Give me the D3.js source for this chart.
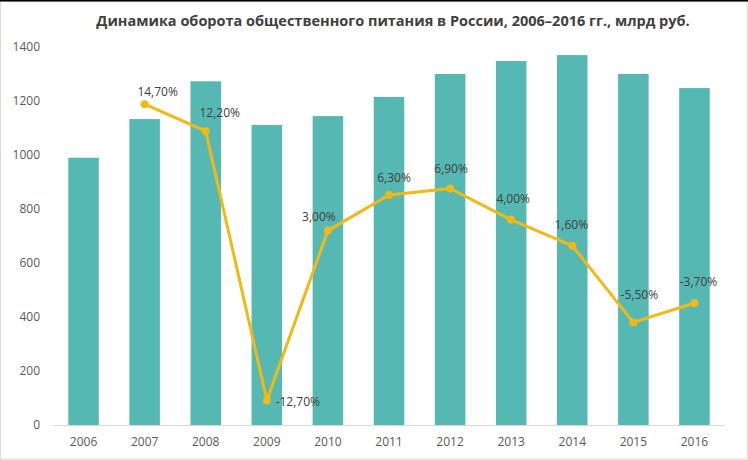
<!DOCTYPE html>
<html>
<head>
<meta charset="utf-8">
<script src="https://cdn.jsdelivr.net/npm/d3@7"></script>
<style>
  html, body { margin: 0; padding: 0; background: #fff; }
  svg { display: block; }
</style>
</head>
<body>
<svg id="chart" width="748" height="460"></svg>
<script>
const years = ["2006","2007","2008","2009","2010","2011","2012","2013","2014","2015","2016"];
const turnover = [990, 1133, 1273, 1111, 1144, 1215, 1300, 1348, 1370, 1300, 1248];
const growthYears = ["2007","2008","2009","2010","2011","2012","2013","2014","2015","2016"];
const growth = [14.7, 12.2, -12.7, 3.0, 6.3, 6.9, 4.0, 1.6, -5.5, -3.7];
const yTicks = [0, 200, 400, 600, 800, 1000, 1200, 1400];
const title = "Динамика оборота общественного питания в России, 2006–2016 гг., млрд руб.";

// label placement (offset of label centre from the point)
const labelOffsets = [[13,-12],[14,-18],[31,2],[-9,-14],[5,-17],[1,-19],[2,-21],[-1,-21],[6,-27],[4,-21]];

(function () {
const svg = d3.select("#chart");
const W = 748, H = 460;
const font = "'Open Sans', 'Noto Sans', sans-serif";

// frame
svg.append("rect").attr("x", 0.5).attr("y", 1.5).attr("width", W - 1.5).attr("height", H - 2.5)
  .attr("fill", "#fff").attr("stroke", "#d9d9d9");
svg.append("rect").attr("x", 0).attr("y", 0).attr("width", W).attr("height", 1.5).attr("fill", "#000");

const mLeft = 53, mRight = 725, mTop = 47, mBottom = 425;

const x = d3.scaleBand().domain(years).range([mLeft, mRight]).paddingInner(0.5).paddingOuter(0.25);
const y = d3.scaleLinear().domain([0, 1400]).range([mBottom, mTop]);
const y2 = d3.scaleLinear().domain([-15, 20]).range([mBottom, mTop]);

// title
svg.append("text").attr("x", 393).attr("y", 26).attr("text-anchor", "middle")
  .attr("font-family", font).attr("font-size", 14.5).attr("font-weight", "bold")
  .attr("fill", "#404040").text(title);

// y axis (labels only)
const yAxis = d3.axisLeft(y).tickValues(yTicks).tickFormat(d3.format("d")).tickSize(0).tickPadding(0);
const gy = svg.append("g").attr("transform", `translate(40,0)`).call(yAxis);
gy.select(".domain").remove();
gy.selectAll("text").attr("font-family", font).attr("font-size", 12).attr("fill", "#595959");

// bars
svg.append("g").selectAll("rect").data(years).join("rect")
  .attr("x", d => x(d)).attr("width", x.bandwidth())
  .attr("y", (d, i) => y(turnover[i])).attr("height", (d, i) => y(0) - y(turnover[i]))
  .attr("fill", "#56b8b3");

// baseline
svg.append("line").attr("x1", mLeft).attr("x2", mRight).attr("y1", mBottom + 0.5).attr("y2", mBottom + 0.5)
  .attr("stroke", "#d9d9d9").attr("stroke-width", 1);

// x axis
const xAxis = d3.axisBottom(x).tickSize(0).tickPadding(12);
const gx = svg.append("g").attr("transform", `translate(0,${mBottom})`).call(xAxis);
gx.select(".domain").remove();
gx.selectAll("text").attr("font-family", font).attr("font-size", 12).attr("fill", "#595959");

// line
const cx = d => x(d) + x.bandwidth() / 2;
const line = d3.line().x((d, i) => cx(growthYears[i])).y(d => y2(d));
svg.append("path").datum(growth).attr("d", line).attr("fill", "none")
  .attr("stroke", "#f0b915").attr("stroke-width", 3).attr("stroke-linejoin", "round");
svg.append("g").selectAll("circle").data(growth).join("circle")
  .attr("cx", (d, i) => cx(growthYears[i])).attr("cy", d => y2(d)).attr("r", 4)
  .attr("fill", "#f0b915");

// labels
const fmt = v => v.toFixed(2).replace(".", ",") + "%";
svg.append("g").selectAll("text").data(growth).join("text")
  .attr("x", (d, i) => cx(growthYears[i]) + labelOffsets[i][0])
  .attr("y", (d, i) => y2(d) + labelOffsets[i][1] + 4)
  .attr("text-anchor", "middle")
  .attr("font-family", font).attr("font-size", 12).attr("fill", "#404040")
  .text(d => fmt(d));
})();
</script>
</body>
</html>
